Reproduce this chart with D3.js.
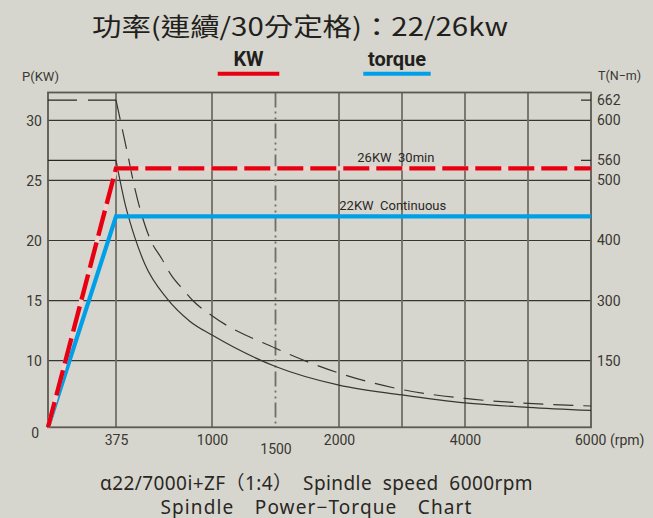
<!DOCTYPE html>
<html><head><meta charset="utf-8">
<script src="https://cdn.jsdelivr.net/npm/d3@7"></script>
<style>
html,body{margin:0;padding:0;background:#d6d6ce;}
svg{display:block;}
</style></head><body>
<svg id="chart" width="653" height="518"></svg>
<script>
// ---------- data ----------
const titleText = "功率(連續/30分定格)：22/26kw";
const legendLabels = ["KW", "torque"];
const powerRpm = [0, 375, 6000];
const power30min = [0, 26, 26];
const powerCont = [0, 22, 22];
const torqueRpm30 = [375, 412, 455, 499, 542, 596, 672, 738, 813, 878, 1000, 1500, 2000, 3000, 4000, 5000, 6000];
const torque30 = [662, 594, 563, 485, 443, 403, 370, 341, 318, 299, 262, 181, 122, 85, 65, 54, 48];
const torqueRpmCont = [375, 401, 434, 466, 499, 564, 705, 857, 1000, 1500, 2000, 3000, 4000, 5000, 6000];
const torqueCont = [560, 500, 461, 431, 404, 360, 304, 248, 214, 137, 95, 73, 55, 45, 38];
const powerTicks = [0, 10, 15, 20, 25, 30];
const powerGrid = [10, 15, 20, 25, 30];
const torqueTicks = [150, 300, 400, 500, 560, 600, 662];
const torqueTickPower = [10, 15, 20, 25, 26.67, 30, 31.67]; // power grid value each torque label sits on
const torqueMarks = [662, 560];
const rpmGrid = [375, 1000, 2000, 3000, 4000, 5000];
const rpmDashDot = [1500];
const rpmLabels = [375, 1000, 1500, 2000, 4000, 6000];
const seriesLabels = ["26KW  30min", "22KW  Continuous"];
const subtitleLines = ["α22/7000i+ZF（1:4） Spindle speed 6000rpm", "Spindle Power−Torque Chart"];

// ---------- layout ----------
const svg = d3.select("#chart");
const P = {left: 48, right: 591, top: 92.5, bottom: 427.3};
const x = d3.scaleLinear().domain([0, 375, 1000, 2000, 6000]).range([P.left, 116, 212, 339, P.right]);
const y = d3.scaleLinear().domain([0, 10, 30, 32.3]).range([P.bottom, 360.7, 120.3, P.top]);
const tq = d3.scaleLinear().domain([0, ...torqueTicks]).range([0, ...torqueTickPower]);
const ty = t => y(tq(t));

const ink = "#2b2725";
const gridV = "#736d67";
const gridH = "#3a3532";
const fontLat = "Roboto, 'Noto Sans', sans-serif";

svg.append("rect").attr("width", 653).attr("height", 518).attr("fill", "#d6d6ce");

// horizontal grid
svg.append("g").selectAll("line").data(powerGrid).join("line")
  .attr("x1", P.left).attr("x2", P.right)
  .attr("y1", d => y(d)).attr("y2", d => y(d))
  .attr("stroke", gridH).attr("stroke-width", 1.2);

// vertical grid
svg.append("g").selectAll("line").data(rpmGrid).join("line")
  .attr("x1", d => x(d)).attr("x2", d => x(d))
  .attr("y1", P.top).attr("y2", P.bottom)
  .attr("stroke", gridV).attr("stroke-width", 1.8);
svg.append("g").selectAll("line").data(rpmDashDot).join("line")
  .attr("x1", d => x(d)).attr("x2", d => x(d))
  .attr("y1", P.top).attr("y2", P.bottom)
  .attr("stroke", gridV).attr("stroke-width", 1.8)
  .attr("stroke-dasharray", "15,4,2,4,2,4");

// frame
svg.append("rect").attr("x", P.left).attr("y", P.top)
  .attr("width", P.right - P.left).attr("height", P.bottom - P.top)
  .attr("fill", "none").attr("stroke", "#5e5853").attr("stroke-width", 1.8);

// torque reference lines on the left (662 dashed, 560 solid)
svg.append("line").attr("x1", x(0)).attr("x2", x(375))
  .attr("y1", ty(662)).attr("y2", ty(662))
  .attr("stroke", ink).attr("stroke-width", 1.3).attr("stroke-dasharray", "29,11");
svg.append("line").attr("x1", x(0)).attr("x2", x(375))
  .attr("y1", ty(560)).attr("y2", ty(560))
  .attr("stroke", ink).attr("stroke-width", 1.3);
// right-side short marks
svg.append("g").selectAll("line").data(torqueMarks).join("line")
  .attr("x1", P.right - 10).attr("x2", P.right)
  .attr("y1", d => ty(d)).attr("y2", d => ty(d))
  .attr("stroke", ink).attr("stroke-width", 1.2);

// torque curves
const tline = d3.line().x(d => x(d[0])).y(d => ty(d[1])).curve(d3.curveMonotoneX);
svg.append("path").datum(torqueRpmCont.map((r, i) => [r, torqueCont[i]]))
  .attr("d", tline).attr("fill", "none").attr("stroke", "#3a3532").attr("stroke-width", 1.2);
svg.append("path").datum(torqueRpm30.map((r, i) => [r, torque30[i]]))
  .attr("d", tline).attr("fill", "none").attr("stroke", "#3a3532").attr("stroke-width", 1.2)
  .attr("stroke-dasharray", "20,10");

// power lines
const pline = d3.line().x(d => x(d[0])).y(d => y(d[1]));
svg.append("path").datum(powerRpm.map((r, i) => [r, powerCont[i]]))
  .attr("d", pline).attr("fill", "none").attr("stroke", "#00a0e9").attr("stroke-width", 4.2)
  .attr("stroke-linejoin", "miter");
const redData = powerRpm.map((r, i) => [r, power30min[i]]);
svg.append("path").datum(redData)
  .attr("d", pline).attr("fill", "none").attr("stroke", "#eed3cf").attr("stroke-width", 4.2);
svg.append("path").datum(redData)
  .attr("d", pline).attr("fill", "none").attr("stroke", "#e60012").attr("stroke-width", 4.4)
  .attr("stroke-dasharray", "26,7");

// series labels
const labelPos = [[2290, 26], [2005, 22]];
svg.append("g").selectAll("text").data(seriesLabels).join("text")
  .attr("x", (d, i) => x(labelPos[i][0])).attr("y", (d, i) => y(labelPos[i][1]) - 6.5)
  .attr("font-family", fontLat).attr("font-size", 13).attr("fill", ink)
  .style("white-space", "pre").text(d => d);

// left axis
const gl = svg.append("g").attr("transform", `translate(${P.left},0)`)
  .call(d3.axisLeft(y).tickValues(powerTicks).tickSize(0).tickPadding(6).tickFormat(d3.format("d")));
gl.select(".domain").remove();
gl.selectAll("text").attr("font-family", fontLat).attr("font-size", 14).attr("fill", "#3a3633")
  .attr("dy", d => d === 0 ? "0.75em" : "0.36em").attr("dx", d => d === 0 ? -3 : 0);

// right axis
const rightG = svg.append("g").attr("transform", `translate(${P.right},0)`);
const tyScale = d3.scaleLinear().domain([0, ...torqueTicks]).range([0, ...torqueTickPower].map(v => y(v)));
rightG.call(d3.axisRight(tyScale).tickValues(torqueTicks).tickSize(0).tickPadding(6).tickFormat(d3.format("d")));
rightG.select(".domain").remove();
rightG.selectAll("text").attr("font-family", fontLat).attr("font-size", 14).attr("fill", "#3a3633");

// bottom axis
const gb = svg.append("g").attr("transform", `translate(0,${P.bottom})`)
  .call(d3.axisBottom(x).tickValues(rpmLabels).tickSize(0).tickPadding(8).tickFormat(d3.format("d")));
gb.select(".domain").remove();
gb.selectAll("text").attr("font-family", fontLat).attr("font-size", 14).attr("fill", "#3a3633")
  .attr("dy", d => d === 1500 ? "1.36em" : "0.71em");
gb.selectAll(".tick").filter(d => d === 6000).select("text")
  .attr("text-anchor", "start").attr("x", -16.5).text("6000 (rpm)");

// axis titles
svg.append("text").attr("x", 22).attr("y", 81).attr("font-family", fontLat).attr("font-size", 13)
  .attr("fill", "#3a3633").text("P(KW)");
svg.append("text").attr("x", 598).attr("y", 80).attr("font-family", fontLat).attr("font-size", 12.5)
  .attr("fill", "#3a3633").text("T(N−m)");

// title
svg.append("text").attr("x", 300).attr("y", 36).attr("text-anchor", "middle")
  .attr("font-family", "'Noto Sans CJK TC', 'Noto Sans', sans-serif").attr("font-size", 25)
  .attr("fill", "#231f1d").attr("textLength", 416).attr("lengthAdjust", "spacingAndGlyphs")
  .text(titleText);

// legend
const legendX = [248.5, 397];
const legendColors = ["#e60012", "#00a0e9"];
const legendW = [61.6, 67.4];
const lg = svg.append("g").selectAll("g").data(legendLabels).join("g");
lg.append("text").attr("x", (d, i) => legendX[i]).attr("y", 65.5).attr("text-anchor", "middle")
  .attr("font-family", fontLat).attr("font-weight", "bold").attr("font-size", 20).attr("fill", "#231f1d")
  .text(d => d);
lg.append("line").attr("x1", (d, i) => legendX[i] - legendW[i] / 2).attr("x2", (d, i) => legendX[i] + legendW[i] / 2)
  .attr("y1", 73.8).attr("y2", 73.8).attr("stroke", (d, i) => legendColors[i]).attr("stroke-width", 4);

// subtitle: part tracking, part word spacing, to reach the reference width
const subW = [433, 312];
svg.append("g").selectAll("text").data(subtitleLines).join("text")
  .attr("x", 316.5).attr("y", (d, i) => 490 + i * 23.5).attr("text-anchor", "middle")
  .attr("font-family", "'Noto Sans', 'Noto Sans CJK TC', sans-serif").attr("font-size", 19).attr("fill", "#2a2624")
  .text(d => d)
  .each(function (d, i) {
    const sel = d3.select(this);
    const w = this.getComputedTextLength();
    const n = d.length;
    const spaces = (d.match(/ /g) || []).length;
    let extra = subW[i] - w;
    if (extra <= 0) return;
    const ls = Math.min(1.2, extra * 0.5 / n);
    sel.attr("letter-spacing", ls);
    extra -= ls * n;
    if (spaces > 0 && extra > 0) sel.attr("word-spacing", extra / spaces);
  });
</script>
</body></html>
